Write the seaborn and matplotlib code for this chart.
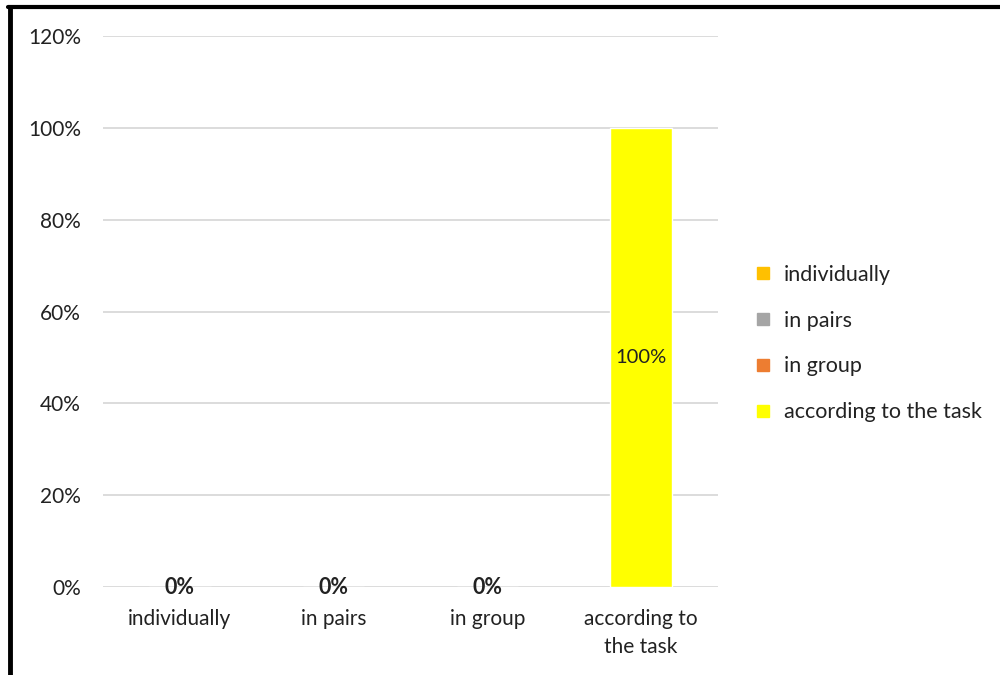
import matplotlib.pyplot as plt
import matplotlib.lines as mlines
import seaborn as sns
import pandas as pd

categories = ['individually', 'in pairs', 'in group', 'according to the task']
tick_labels = ['individually', 'in pairs', 'in group', 'according to\nthe task']
values = [0, 0, 0, 100]
colors = ['#FFC000', '#A5A5A5', '#ED7D31', '#FFFF00']

sns.set_style('white')
plt.rcParams['font.family'] = ['Lato', 'DejaVu Sans']

df = pd.DataFrame({'category': categories, 'value': values})

fig = plt.figure(figsize=(10, 6.75), dpi=100)
ax = fig.add_axes([0.103, 0.13, 0.615, 0.817])

sns.barplot(data=df, x='category', y='value', hue='category', palette=colors,
            dodge=False, width=0.4, legend=False, ax=ax, saturation=1)

for cont in ax.containers:
    for bar in cont:
        h = bar.get_height()
        if h == 0:
            ax.text(bar.get_x() + bar.get_width() / 2, 0, '0%', ha='center', va='center',
                    fontsize=15.5, fontweight='bold', color='#222222')
        else:
            ax.text(bar.get_x() + bar.get_width() / 2, h / 2, f'{h:.0f}%', ha='center',
                    va='center', fontsize=14.5, color='#222222')

ax.set_ylim(0, 120)
ax.set_xlim(-0.5, 3.5)
ax.set_yticks(range(0, 121, 20))
ax.set_yticklabels([f'{v}%' for v in range(0, 121, 20)])
ax.set_xticks(range(4))
ax.set_xticklabels(tick_labels, linespacing=1.45, va='top')
ax.tick_params(axis='both', length=0, labelsize=15, labelcolor='#222222')
ax.tick_params(axis='x', pad=16)
ax.tick_params(axis='y', pad=16)
ax.yaxis.grid(True, color='#D9D9D9', linewidth=1.3)
ax.set_axisbelow(True)
ax.set_xlabel('')
ax.set_ylabel('')
for s in ax.spines.values():
    s.set_visible(False)

handles = [mlines.Line2D([], [], marker='s', linestyle='none', markersize=8,
                         markerfacecolor=c, markeredgecolor=c) for c in colors]
fig.legend(handles, categories, loc='center left', bbox_to_anchor=(0.733, 0.491),
           frameon=False, fontsize=15.5, labelspacing=1.2, handletextpad=0.45,
           handlelength=1.0, labelcolor='#222222')

# black frame on the left and top edge
fig.add_artist(mlines.Line2D([0.010, 0.010], [0, 0.989], color='black', linewidth=3.5))
fig.add_artist(mlines.Line2D([0.008, 1], [0.989, 0.989], color='black', linewidth=3))

fig.savefig('out.png', dpi=100)
